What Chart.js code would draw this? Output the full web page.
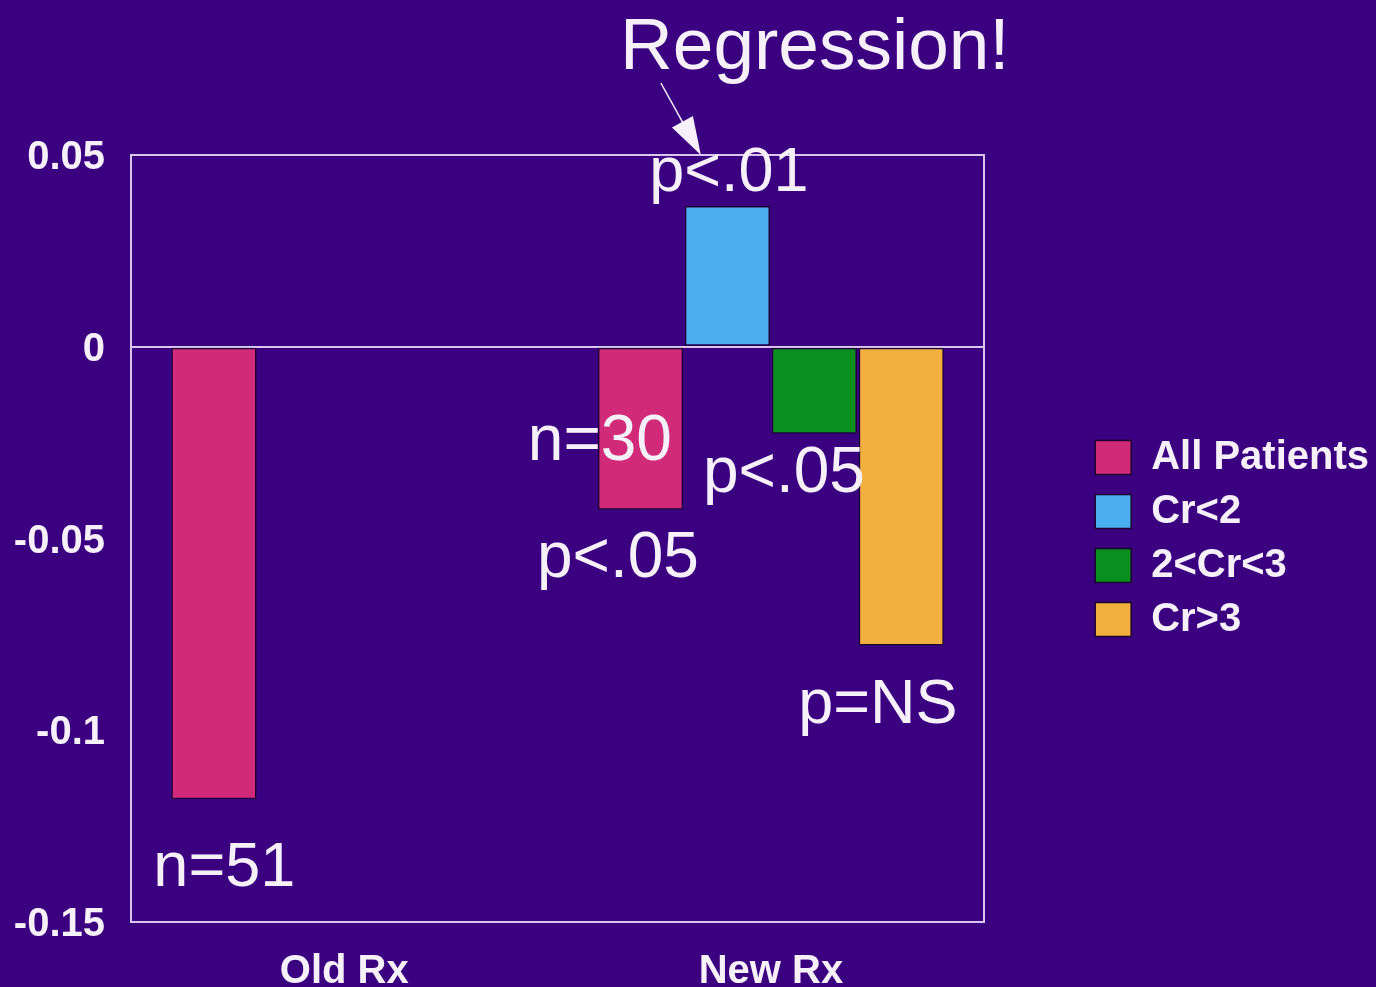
<!DOCTYPE html>
<html lang="en">
<head>
  <meta charset="UTF-8" />
  <title>Regression</title>
  <script src="https://cdn.jsdelivr.net/npm/chart.js"></script>
  <style>
    html, body {
      margin: 0;
      padding: 0;
      background: #3b0080;
    }
    .wrap {
      width: 1376px;
      height: 987px;
    }
  </style>
</head>
<body>
  <div class="wrap">
    <canvas id="grafico" width="1376" height="987"></canvas>
  </div>

  <script>
    const categorias = ["Old Rx", "New Rx"];
    const series = ["All Patients", "Cr<2", "2<Cr<3", "Cr>3"];
    const todos = [-0.118, -0.0425];
    const crMenor2 = [null, 0.0367];
    const cr2a3 = [null, -0.0227];
    const crMayor3 = [null, -0.0779];
    const etiquetasY = ["-0.15", "-0.1", "-0.05", "0", "0.05"];
    const colores = ["#d02a78", "#4aaeef", "#0a8f1e", "#f2b03f"];

    // notas de texto: categoria, desplazamiento en px, valor de la linea base
    const notas = [
      { texto: "n=51", cat: 0, dx: -120, val: -0.1407, size: 63 },
      { texto: "n=30", cat: 1, dx: -171, val: -0.0295, size: 64 },
      { texto: "p<.05", cat: 1, dx: -153, val: -0.0601, size: 64 },
      { texto: "p<.05", cat: 1, dx: 13, val: -0.0378, size: 64 },
      { texto: "p=NS", cat: 1, dx: 107, val: -0.0981, size: 63 },
      { texto: "p<.01", cat: 1, dx: -42, val: 0.0405, size: 63 },
      { texto: "Regression!", cat: 1, dx: 44, val: 0.0725, size: 73 }
    ];

    const blanco = "#f6f0fb";
    const lila = "#d9c6f0";

    const notasPlugin = {
      id: "notas",
      afterDraw(chart) {
        const ctx = chart.ctx;
        const x = chart.scales.x;
        const y = chart.scales.y;
        ctx.save();
        ctx.fillStyle = blanco;
        ctx.textAlign = "center";
        ctx.textBaseline = "alphabetic";
        notas.forEach(n => {
          ctx.font = `400 ${n.size}px "Liberation Sans", Arial, sans-serif`;
          ctx.fillText(n.texto, x.getPixelForValue(n.cat) + n.dx, y.getPixelForValue(n.val));
        });
        // flecha de Regression! a p<.01
        const x0 = x.getPixelForValue(1) - 110, y0 = 83;
        const x1 = x.getPixelForValue(1) - 70, y1 = 155;
        const ang = Math.atan2(y1 - y0, x1 - x0);
        ctx.strokeStyle = blanco;
        ctx.lineWidth = 1.5;
        ctx.beginPath();
        ctx.moveTo(x0, y0);
        ctx.lineTo(x1 - Math.cos(ang) * 30, y1 - Math.sin(ang) * 30);
        ctx.stroke();
        ctx.beginPath();
        ctx.moveTo(x1, y1);
        ctx.lineTo(x1 - Math.cos(ang) * 38 + Math.sin(ang) * 12, y1 - Math.sin(ang) * 38 - Math.cos(ang) * 12);
        ctx.lineTo(x1 - Math.cos(ang) * 38 - Math.sin(ang) * 12, y1 - Math.sin(ang) * 38 + Math.cos(ang) * 12);
        ctx.closePath();
        ctx.fill();
        ctx.restore();
      }
    };

    const fuenteEje = { family: '"Liberation Sans", Arial, sans-serif', size: 40, weight: "bold" };

    new Chart(document.getElementById("grafico"), {
      type: "bar",
      data: {
        labels: categorias,
        datasets: [
          { label: series[0], data: todos, backgroundColor: colores[0] },
          { label: series[1], data: crMenor2, backgroundColor: colores[1] },
          { label: series[2], data: cr2a3, backgroundColor: colores[2] },
          { label: series[3], data: crMayor3, backgroundColor: colores[3] }
        ].map(d => Object.assign(d, {
          borderColor: "#1c0030",
          borderWidth: 1.5,
          borderSkipped: false,
          barPercentage: 0.98,
          categoryPercentage: 0.815
        }))
      },
      options: {
        responsive: false,
        animation: false,
        layout: { padding: { top: 155, left: 0, right: -3, bottom: 0 } },
        scales: {
          x: {
            grid: { display: false },
            border: { display: false },
            ticks: { color: blanco, font: fuenteEje, padding: 18 },
            afterFit(s) { s.height = 65; }
          },
          y: {
            min: -0.15,
            max: 0.05,
            ticks: {
              stepSize: 0.05,
              color: blanco,
              font: fuenteEje,
              padding: 26,
              labelOffset: 3,
              callback: (v, i) => etiquetasY[i]
            },
            grid: {
              drawTicks: false,
              lineWidth: 2,
              color: c => (c.index === 0 || c.index === 3 || c.index === 4) ? lila : "transparent"
            },
            border: { color: lila, width: 2 },
            afterFit(s) { s.width = 131; }
          },
          margen: {
            type: "linear",
            position: "right",
            grid: { display: false },
            ticks: { display: false },
            border: { color: lila, width: 2 },
            afterFit(s) { s.width = 97; }
          }
        },
        plugins: {
          legend: {
            position: "right",
            fullSize: false,
            maxWidth: 340,
            labels: {
              color: blanco,
              font: fuenteEje,
              boxWidth: 36,
              boxHeight: 34,
              padding: 14
            }
          },
          tooltip: { enabled: false }
        }
      },
      plugins: [notasPlugin]
    });
  </script>
</body>
</html>
